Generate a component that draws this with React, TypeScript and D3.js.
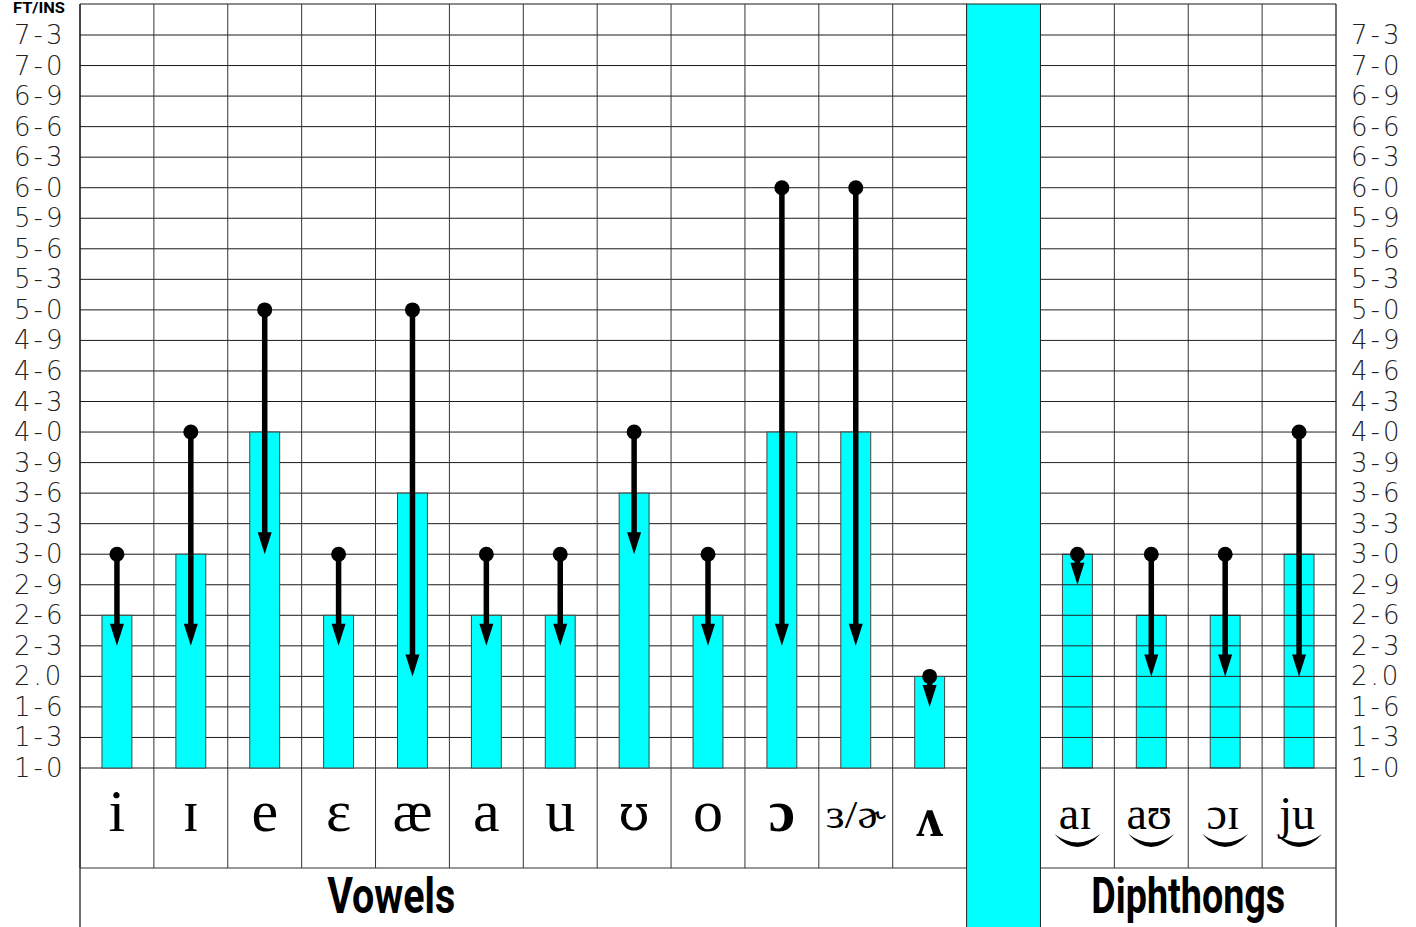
import React from "react";
import * as d3 from "d3";

// Height levels (ft-in), bottom to top — drawn evenly spaced as in the reference
const levels = [
  "1-0", "1-3", "1-6", "2.0", "2-3", "2-6", "2-9", "3-0", "3-3", "3-6", "3-9", "4-0",
  "4-3", "4-6", "4-9", "5-0", "5-3", "5-6", "5-9", "6-0", "6-3", "6-6", "6-9", "7-0", "7-3",
];

const vowels = ["i", "ɪ", "e", "ɛ", "æ", "a", "u", "ʊ", "o", "ɔ", "ɜ/ɚ", "ʌ"];
const diphthongs = ["aɪ", "aʊ", "ɔɪ", "ju"];

const vowelBar = ["2-6", "3-0", "4-0", "2-6", "3-6", "2-6", "2-6", "3-6", "2-6", "4-0", "4-0", "2.0"];
const vowelFrom = ["3-0", "4-0", "5-0", "3-0", "5-0", "3-0", "3-0", "4-0", "3-0", "6-0", "6-0", "2.0"];
const vowelTo = ["2-3", "2-3", "3-0", "2-3", "2.0", "2-3", "2-3", "3-0", "2-3", "2-3", "2-3", "1-6"];

const diphBar = ["3-0", "2-6", "2-6", "3-0"];
const diphFrom = ["3-0", "3-0", "3-0", "4-0"];
const diphTo = ["2-9", "2.0", "2.0", "2.0"];

const groupLabels = ["Vowels", "Diphthongs"];
const axisTitle = "FT/INS";

const W = 1416;
const H = 927;
const LEFT = 80;
const RIGHT = 1336;
const TOP = 4;
const BASE = 768;
const LABEL_ROW = 868;
const CYAN = "#00FFFF";
const SEP = "sep";

export default function App() {
  const columns = [...vowels, SEP, ...diphthongs];
  const x = d3.scaleBand<string>().domain(columns).range([LEFT, RIGHT]).padding(0);
  const y = d3.scalePoint<string>().domain(levels).range([BASE, 35]);
  const bw = x.bandwidth();
  const barW = bw * 0.405;

  const items = [
    ...vowels.map((c, i) => ({ c, bar: vowelBar[i], from: vowelFrom[i], to: vowelTo[i], diph: false })),
    ...diphthongs.map((c, i) => ({ c, bar: diphBar[i], from: diphFrom[i], to: diphTo[i], diph: true })),
  ];

  const sepX = x(SEP)!;
  const lineColor = "#1a1a1a";
  const tickFont = "'DejaVu Sans', 'Liberation Sans', sans-serif";
  const ipaFont = "'Liberation Serif', 'DejaVu Serif', serif";
  const catFont = "'Liberation Sans Narrow', 'Roboto', 'Liberation Sans', sans-serif";

  const gridLines = (x0: number, x1: number, key: string, color: string) =>
    levels.map((l) => (
      <line key={key + l} x1={x0} x2={x1} y1={y(l)} y2={y(l)} stroke={color} strokeWidth={1} />
    ));

  const renderBar = (it: any) => {
    const cx = x(it.c)! + bw / 2;
    return (
      <rect
        key={"bar" + it.c}
        x={cx - barW / 2}
        y={y(it.bar)}
        width={barW}
        height={BASE - y(it.bar)!}
        fill={CYAN}
        stroke="#444"
        strokeWidth={1}
      />
    );
  };

  const renderArrow = (it: any) => {
    const cx = x(it.c)! + bw / 2;
    const y0 = y(it.from)!;
    const y1 = y(it.to)!;
    const headL = 22;
    const headW = 7;
    return (
      <g key={"arr" + it.c}>
        <line x1={cx} x2={cx} y1={y0} y2={y1 - headL + 2} stroke="#000" strokeWidth={5.5} />
        <path d={`M${cx - headW},${y1 - headL} L${cx + headW},${y1 - headL} L${cx},${y1} Z`} fill="#000" />
        <circle cx={cx} cy={y0} r={7.5} fill="#000" />
      </g>
    );
  };

  const vowelItems = items.filter((d) => !d.diph);
  const diphItems = items.filter((d) => d.diph);
  const diphX0 = x(diphthongs[0])!;
  const vowelsCenter = LEFT + (sepX - LEFT) * 0.351;
  const diphCenter = (diphX0 + RIGHT) / 2;

  const vowelStyle = (v: string) => {
    if (v === "ɜ/ɚ") return { size: 40, weight: "normal", dy: 828, family: ipaFont, len: 60 };
    if (v === "ʌ") return { size: 54, weight: "bold", dy: 836, family: ipaFont, len: 0 };
    if (v === "ɔ") return { size: 60, weight: "bold", dy: 831, family: ipaFont, len: 0 };
    if (v === "ʊ") return { size: 50, weight: "normal", dy: 830, family: "'DejaVu Serif', serif", len: 0 };
    return { size: 60, weight: "normal", dy: 831, family: ipaFont, len: 0 };
  };

  return (
    <svg
      width={W}
      height={H}
      style={{ position: "absolute", left: 0, top: 0, display: "block", background: "#fff" }}
    >
      <rect x={0} y={0} width={W} height={H} fill="#fff" />

      {/* grid under vowel bars */}
      {gridLines(LEFT, sepX, "gv", lineColor)}
      <line x1={LEFT} x2={sepX} y1={TOP} y2={TOP} stroke={lineColor} />
      <line x1={diphX0} x2={RIGHT} y1={TOP} y2={TOP} stroke={lineColor} />

      {/* vertical column lines */}
      {columns.map((c) => (
        <line key={"v" + c} x1={x(c)} x2={x(c)} y1={TOP} y2={LABEL_ROW} stroke="#333" strokeWidth={1} />
      ))}
      <line x1={RIGHT} x2={RIGHT} y1={TOP} y2={H} stroke="#111" strokeWidth={1.2} />
      <line x1={LEFT} x2={LEFT} y1={TOP} y2={H} stroke="#111" strokeWidth={1.2} />
      <line x1={LEFT} x2={RIGHT} y1={LABEL_ROW} y2={LABEL_ROW} stroke="#333" strokeWidth={1} />

      {vowelItems.map(renderBar)}
      {diphItems.map(renderBar)}
      {/* grid over diphthong bars */}
      {gridLines(diphX0, RIGHT, "gd", "#222")}

      {/* separator column */}
      <rect x={sepX} y={TOP} width={bw} height={H - TOP + 2} fill={CYAN} stroke="#222" strokeWidth={1} />

      {items.map(renderArrow)}

      {/* y tick labels left and right */}
      {levels.map((l) => (
        <text
          key={"tl" + l}
          x={14}
          y={y(l)! + 9}
          fontFamily={tickFont}
          fontSize={26}
          fontWeight={300}
          letterSpacing={3}
          fill="#222"
        >
          {l}
        </text>
      ))}
      {levels.map((l) => (
        <text
          key={"tr" + l}
          x={RIGHT + 15}
          y={y(l)! + 9}
          fontFamily={tickFont}
          fontSize={26}
          fontWeight={300}
          letterSpacing={3}
          fill="#222"
        >
          {l}
        </text>
      ))}
      <text
        x={13}
        y={13}
        fontFamily={catFont}
        fontWeight="bold"
        fontSize={14}
        textLength={52}
        lengthAdjust="spacingAndGlyphs"
      >
        {axisTitle}
      </text>

      {/* vowel symbols */}
      {vowels.map((v) => {
        const cx = x(v)! + bw / 2;
        const s = vowelStyle(v);
        return (
          <text
            key={"lab" + v}
            x={cx}
            y={s.dy}
            textAnchor="middle"
            fontFamily={s.family}
            fontSize={s.size}
            fontWeight={s.weight}
            fill="#000"
            {...(s.len ? { textLength: s.len, lengthAdjust: "spacingAndGlyphs" } : {})}
          >
            {v}
          </text>
        );
      })}

      {/* diphthong symbols with undertie */}
      {diphthongs.map((dp) => {
        const cx = x(dp)! + bw / 2;
        return (
          <g key={"dl" + dp}>
            <text x={cx - 2} y={829} textAnchor="middle" fontFamily={ipaFont} fontSize={46} fill="#000">
              {dp}
            </text>
            <path
              d={`M${cx - 23},${834} Q${cx},${860} ${cx + 23},${834} Q${cx},${851} ${cx - 23},${834} Z`}
              fill="#000"
            />
          </g>
        );
      })}

      {/* group labels */}
      <text
        x={vowelsCenter}
        y={913}
        textAnchor="middle"
        fontFamily={catFont}
        fontWeight="bold"
        fontSize={50}
        textLength={128}
        lengthAdjust="spacingAndGlyphs"
      >
        {groupLabels[0]}
      </text>
      <text
        x={diphCenter}
        y={913}
        textAnchor="middle"
        fontFamily={catFont}
        fontWeight="bold"
        fontSize={50}
        textLength={194}
        lengthAdjust="spacingAndGlyphs"
      >
        {groupLabels[1]}
      </text>
    </svg>
  );
}
